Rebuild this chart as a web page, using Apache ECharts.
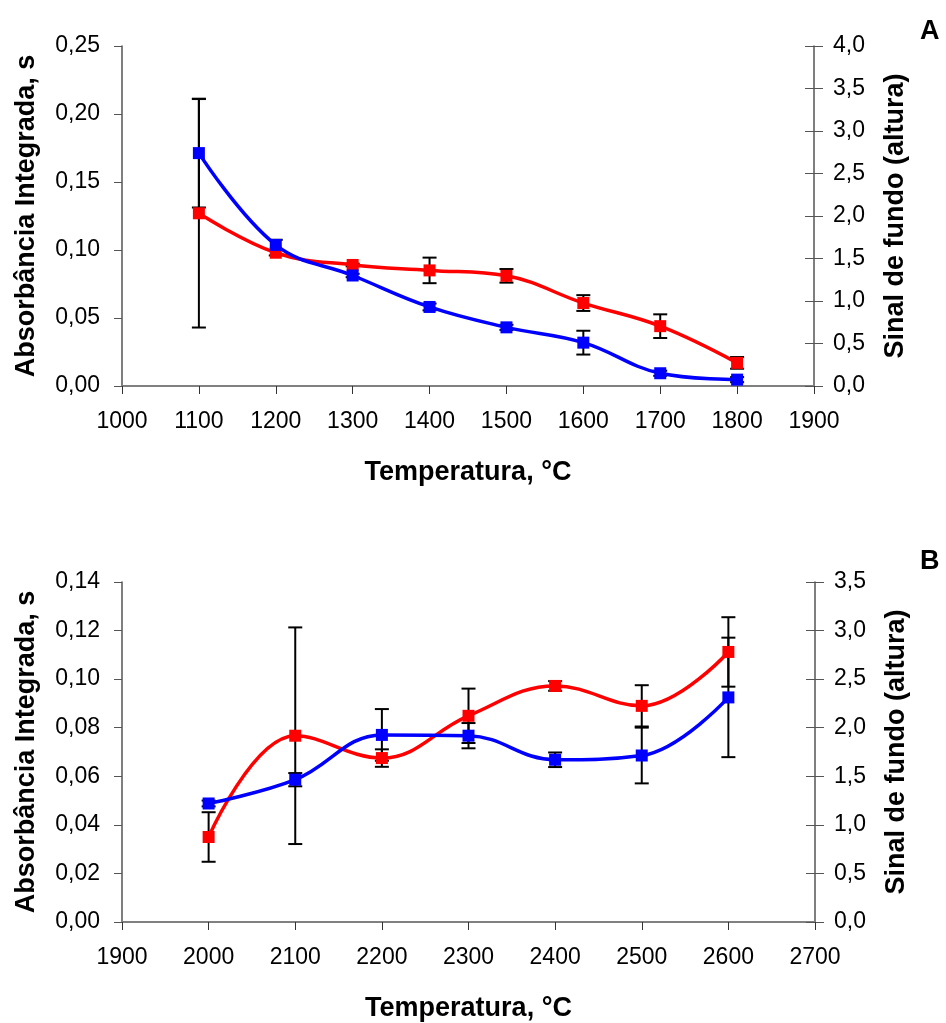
<!DOCTYPE html>
<html>
<head>
<meta charset="utf-8">
<script src="https://cdn.jsdelivr.net/npm/echarts@6/dist/echarts.min.js"></script>
<style>
html,body{margin:0;padding:0;background:#fff;}
#chart{width:946px;height:1023px;}
</style>
</head>
<body>
<div id="chart"></div>
<script>
// ---- Data: chart A (pyrolysis) ----
const tempA = [1100, 1200, 1300, 1400, 1500, 1600, 1700, 1800];
const absA = [0.127, 0.098, 0.089, 0.085, 0.081, 0.061, 0.044, 0.017];      // red, left axis
const absErrA = [0.084, 0.002, 0.001, 0.0094, 0.005, 0.0058, 0.0087, 0.0043];
const bgA = [2.74, 1.66, 1.30, 0.93, 0.69, 0.51, 0.15, 0.075];              // blue, right axis
const bgErrA = [0.64, 0.06, 0.02, 0.04, 0.03, 0.14, 0.03, 0.03];

// ---- Data: chart B (atomization) ----
const tempB = [2000, 2100, 2200, 2300, 2400, 2500, 2600];
const absB = [0.035, 0.0767, 0.0675, 0.0849, 0.0972, 0.089, 0.1112];        // red, left axis
const absErrB = [0.0102, 0.0446, 0.0036, 0.0112, 0.002, 0.0085, 0.0143];
const bgB = [1.22, 1.465, 1.926, 1.918, 1.67, 1.714, 2.312];                 // blue, right axis
const bgErrB = [0.03, 0.068, 0.266, 0.13, 0.075, 0.287, 0.615];

// ---- Text ----
const xName = 'Temperatura, \u00B0C';
const yLeftName = 'Absorb\u00E2ncia Integrada, s';
const yRightName = 'Sinal de fundo (altura)';
const panelLabels = ['A', 'B'];

const FONT = 'Liberation Sans, Arial, Helvetica, sans-serif';
const RED = '#FF0000', BLUE = '#0000FF';

function pairs(xs, ys) { return xs.map((x, i) => [x, ys[i]]); }
function errs(xs, ys, es) { return xs.map((x, i) => [x, ys[i] - es[i], ys[i] + es[i]]); }

function errRender(params, api) {
  const x = api.value(0), lo = api.value(1), hi = api.value(2);
  const pLo = api.coord([x, lo]), pHi = api.coord([x, hi]);
  const hw = 7;
  const style = { stroke: '#000', lineWidth: 2 };
  return {
    type: 'group',
    children: [
      { type: 'line', shape: { x1: pLo[0], y1: pLo[1], x2: pHi[0], y2: pHi[1] }, style: style },
      { type: 'line', shape: { x1: pLo[0] - hw, y1: pLo[1], x2: pLo[0] + hw, y2: pLo[1] }, style: style },
      { type: 'line', shape: { x1: pHi[0] - hw, y1: pHi[1], x2: pHi[0] + hw, y2: pHi[1] }, style: style }
    ]
  };
}

const tickLbl = { fontFamily: FONT, fontSize: 23, color: '#000' };
const nameStyle = { fontFamily: FONT, fontSize: 27, fontWeight: 'bold', color: '#000' };

function xAx(grid, min, max) {
  return {
    type: 'value', gridIndex: grid, min: min, max: max, interval: 100,
    name: xName, nameLocation: 'middle', nameGap: 73, nameTextStyle: nameStyle,
    axisLine: { show: true, onZero: false, lineStyle: { color: '#808080', width: 2 } },
    axisTick: { show: true, length: 8, lineStyle: { color: '#333', width: 1 } },
    axisLabel: Object.assign({ margin: 24, formatter: v => String(Math.round(v)) }, tickLbl),
    splitLine: { show: false }
  };
}
function yLeft(grid, max, interval, dec) {
  return {
    type: 'value', gridIndex: grid, position: 'left', min: 0, max: max, interval: interval,
    name: yLeftName, nameLocation: 'middle', nameGap: 82, nameRotate: 90, nameTextStyle: nameStyle,
    axisLine: { show: true, lineStyle: { color: '#555', width: 1.5 } },
    axisTick: { show: true, length: 8, lineStyle: { color: '#555', width: 1 } },
    axisLabel: Object.assign({ margin: 22, formatter: v => v.toFixed(dec).replace('.', ',') }, tickLbl),
    splitLine: { show: false }
  };
}
function yRight(grid, max, interval) {
  return {
    type: 'value', gridIndex: grid, position: 'right', min: 0, max: max, interval: interval,
    name: yRightName, nameLocation: 'middle', nameGap: 68, nameRotate: 90, nameTextStyle: nameStyle,
    axisLine: { show: true, lineStyle: { color: '#555', width: 1.5 } },
    axisTick: { show: true, length: 9, lineStyle: { color: '#555', width: 1 } },
    axisLabel: Object.assign({ margin: 19, formatter: v => v.toFixed(1).replace('.', ',') }, tickLbl),
    splitLine: { show: false }
  };
}
function yRightInner(grid, max, interval) {
  return {
    type: 'value', gridIndex: grid, position: 'right', min: 0, max: max, interval: interval,
    axisLine: { show: false },
    axisTick: { show: true, inside: true, length: 9, lineStyle: { color: '#555', width: 1 } },
    axisLabel: { show: false },
    splitLine: { show: false }
  };
}

function lineSeries(xi, yi, data, color) {
  return {
    type: 'line', xAxisIndex: xi, yAxisIndex: yi, data: data,
    smooth: 0.4, symbol: 'rect', symbolSize: 12, showSymbol: true,
    itemStyle: { color: color }, lineStyle: { color: color, width: 3.5 },
    z: 3, animation: false
  };
}
function errSeries(xi, yi, data) {
  return {
    type: 'custom', xAxisIndex: xi, yAxisIndex: yi, data: data,
    renderItem: errRender, encode: { x: 0, y: [1, 2] }, z: 2, animation: false
  };
}

const chart = echarts.init(document.getElementById('chart'), null, { renderer: 'canvas' });
chart.setOption({
  backgroundColor: '#fff',
  animation: false,
  title: [
    { text: panelLabels[0], left: 920, top: 18, padding: 0, textStyle: { fontFamily: FONT, fontSize: 27, fontWeight: 'bold', color: '#000' } },
    { text: panelLabels[1], left: 920, top: 548, padding: 0, textStyle: { fontFamily: FONT, fontSize: 27, fontWeight: 'bold', color: '#000' } }
  ],
  grid: [
    { left: 122, top: 46, width: 692, height: 340 },
    { left: 122, top: 582, width: 693, height: 342 }
  ],
  xAxis: [xAx(0, 1000, 1900), xAx(1, 1900, 2700)],
  yAxis: [
    yLeft(0, 0.25, 0.05, 2), yRight(0, 4.0, 0.5), yRightInner(0, 4.0, 0.5),
    yLeft(1, 0.14, 0.02, 2), yRight(1, 3.5, 0.5), yRightInner(1, 3.5, 0.5)
  ],
  series: [
    errSeries(0, 0, errs(tempA, absA, absErrA)),
    errSeries(0, 1, errs(tempA, bgA, bgErrA)),
    lineSeries(0, 0, pairs(tempA, absA), RED),
    lineSeries(0, 1, pairs(tempA, bgA), BLUE),
    errSeries(1, 3, errs(tempB, absB, absErrB)),
    errSeries(1, 4, errs(tempB, bgB, bgErrB)),
    lineSeries(1, 3, pairs(tempB, absB), RED),
    lineSeries(1, 4, pairs(tempB, bgB), BLUE)
  ]
});
</script>
</body>
</html>
